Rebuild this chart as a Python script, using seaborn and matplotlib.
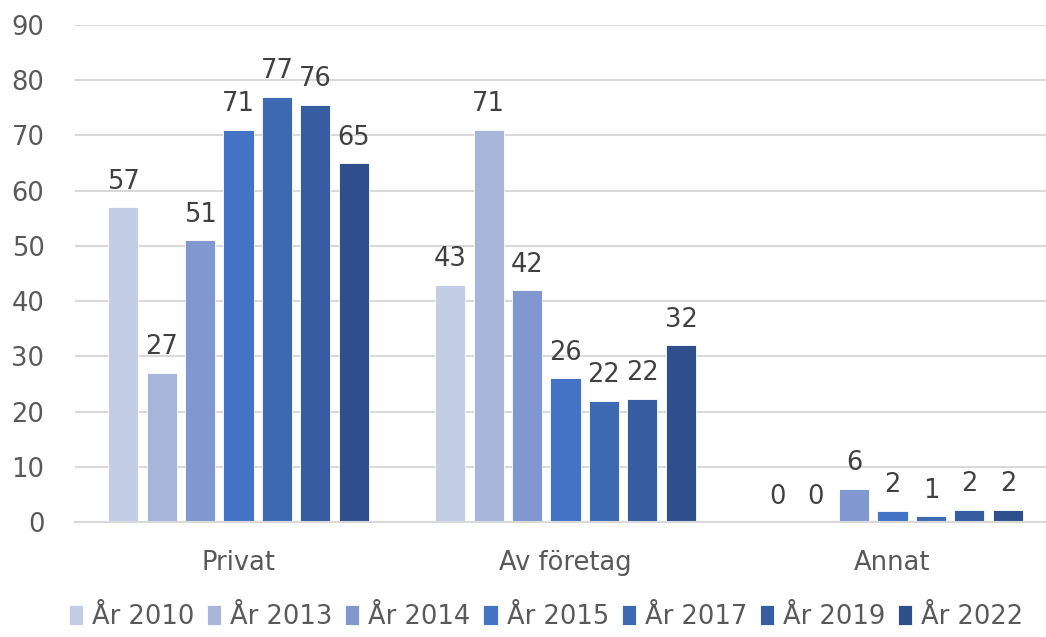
import numpy as np
import pandas as pd
import matplotlib
matplotlib.use("Agg")
import matplotlib.pyplot as plt
import seaborn as sns

kategorier = ["Privat", "Av företag", "Annat"]
ar = ["År 2010", "År 2013", "År 2014", "År 2015", "År 2017", "År 2019", "År 2022"]
varden = {
    "År 2010": [57, 43, 0],
    "År 2013": [27, 71, 0],
    "År 2014": [51, 42, 6],
    "År 2015": [71, 26, 2],
    "År 2017": [77, 22, 1],
    "År 2019": [75.6, 22.3, 2.2],
    "År 2022": [65, 32, 2.2],
}
farger = ["#C3CDE6", "#A7B5DA", "#8097CF", "#4472C4", "#3E6AB4", "#365DA2", "#2F4F8C"]

rows = []
for a in ar:
    for k, v in zip(kategorier, varden[a]):
        rows.append({"kategori": k, "ar": a, "varde": v})
df = pd.DataFrame(rows)

sns.set_style("white")
plt.rcParams["font.family"] = ["DejaVu Sans"]

fig = plt.figure(figsize=(10.46, 6.37), dpi=100)
ax = fig.add_axes([75 / 1046, 115 / 637, 981 / 1046, 497 / 637])

sns.barplot(data=df, x="kategori", y="varde", hue="ar", palette=farger,
            saturation=1, width=0.824, gap=0.22, edgecolor="white", linewidth=0.6,
            errorbar=None, ax=ax)

ax.set_ylim(0, 90)
ax.set_xlim(-0.5, 2.5)
ax.set_yticks(np.arange(0, 91, 10))
ax.yaxis.grid(True, color="#D9D9D9", linewidth=1.5)
ax.set_axisbelow(True)
for s in ["top", "right", "left"]:
    ax.spines[s].set_visible(False)
ax.spines["bottom"].set_color("#D9D9D9")
ax.spines["bottom"].set_linewidth(1.5)
ax.set_xlabel("")
ax.set_ylabel("")
ax.tick_params(axis="both", length=0, labelsize=18.5, colors="#595959")
ax.tick_params(axis="y", pad=22)
ax.tick_params(axis="x", pad=20)

for c in ax.containers:
    ax.bar_label(c, fmt="{:.0f}", padding=9, fontsize=18.5, color="#404040")

handles, labels = ax.get_legend_handles_labels()
ax.legend(handles, labels, loc="lower center", bbox_to_anchor=(0.522, -0.025),
          bbox_transform=fig.transFigure, ncol=7, frameon=False,
          fontsize=18.5, labelcolor="#595959", handlelength=0.55, handleheight=0.8,
          handletextpad=0.35, columnspacing=0.5)

fig.savefig("out.png", dpi=100)
